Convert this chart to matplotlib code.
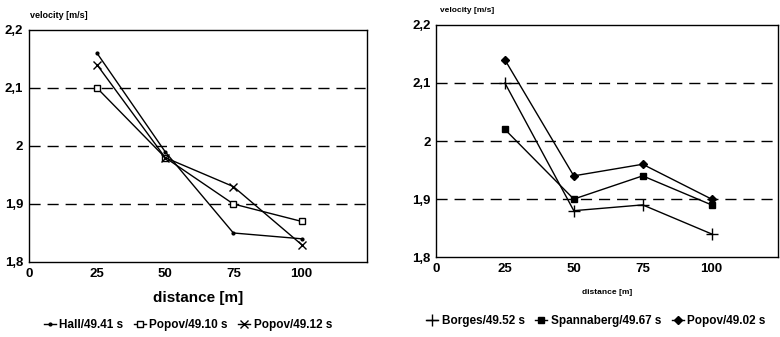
import matplotlib
matplotlib.use("Agg")
import matplotlib.pyplot as plt

distance = [25, 50, 75, 100]
hall_4941 = [2.16, 1.99, 1.85, 1.84]
popov_4910 = [2.10, 1.98, 1.90, 1.87]
popov_4912 = [2.14, 1.98, 1.93, 1.83]
borges_4952 = [2.10, 1.88, 1.89, 1.84]
spannaberg_4967 = [2.02, 1.90, 1.94, 1.89]
popov_4902 = [2.14, 1.94, 1.96, 1.90]

xticks = [0, 25, 50, 75, 100]
yticks = [1.8, 1.9, 2.0, 2.1, 2.2]
yticklabels = ["1,8", "1,9", "2", "2,1", "2,2"]

plt.rcParams['font.family'] = ['Liberation Sans', 'DejaVu Sans']
plt.rcParams['font.weight'] = 'bold'

fig = plt.figure(figsize=(7.8, 3.37), dpi=100)
ax1 = fig.add_axes([0.037, 0.2226, 0.4335, 0.6884])
ax2 = fig.add_axes([0.559, 0.237, 0.438, 0.689])

def style(ax, fs):
    ax.set_xlim(0, 124)
    ax.set_ylim(1.8, 2.2)
    ax.set_xticks(xticks)
    ax.set_xticklabels([str(v) for v in xticks], fontsize=fs, fontweight='bold')
    ax.set_yticks(yticks)
    ax.set_yticklabels(yticklabels, fontsize=fs, fontweight='bold')
    ax.tick_params(length=0, pad=4)
    for y in [1.9, 2.0, 2.1]:
        ax.axhline(y, color='black', lw=1.0, ls=(0, (8, 5)), zorder=1)
    for s in ax.spines.values():
        s.set_linewidth(1.0)

style(ax1, 9.5)
style(ax2, 9.5)

kw = dict(color='black', lw=1.0, zorder=3)
ax1.plot(distance, hall_4941, marker='.', ms=4, label='Hall/49.41 s', **kw)
ax1.plot(distance, popov_4910, marker='s', ms=4, mfc='white', mew=1.0, label='Popov/49.10 s', **kw)
ax1.plot(distance, popov_4912, marker='x', ms=6, mew=1.0, label='Popov/49.12 s', **kw)

ax2.plot(distance, borges_4952, marker='+', ms=8, mew=1.0, label='Borges/49.52 s', **kw)
ax2.plot(distance, spannaberg_4967, marker='s', ms=4, label='Spannaberg/49.67 s', **kw)
ax2.plot(distance, popov_4902, marker='D', ms=4, label='Popov/49.02 s', **kw)

ax1.set_xlabel('distance [m]', fontsize=11, fontweight='bold', labelpad=8)
ax2.set_xlabel('distance [m]', fontsize=6, fontweight='bold', labelpad=10)

fig.text(30/780, 1 - 15/337, 'velocity [m/s]', fontsize=6.5, fontweight='bold', va='center', ha='left')
fig.text(440/780, 1 - 10/337, 'velocity [m/s]', fontsize=6, fontweight='bold', va='center', ha='left')

ax1.legend(loc='center', bbox_to_anchor=(188/780, 1 - 325/337), bbox_transform=fig.transFigure,
           ncol=3, frameon=False, handlelength=1.0, handletextpad=0.3, columnspacing=0.9,
           prop={'weight': 'bold', 'size': 8.5})
ax2.legend(loc='center', bbox_to_anchor=(596/780, 1 - 321/337), bbox_transform=fig.transFigure,
           ncol=3, frameon=False, handlelength=1.0, handletextpad=0.3, columnspacing=0.9,
           prop={'weight': 'bold', 'size': 8.5})

fig.savefig('out.png', dpi=100)
